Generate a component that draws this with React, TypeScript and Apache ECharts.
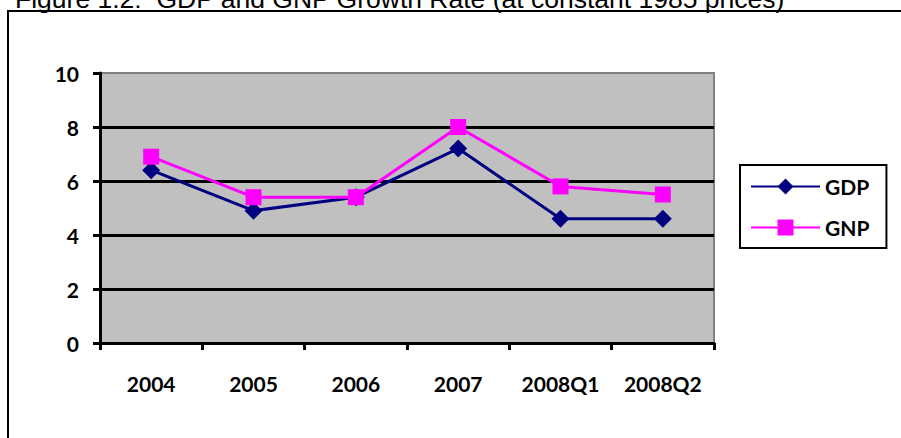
import React, { useEffect, useRef } from "react";
import * as echarts from "echarts";

const categories = ["2004", "2005", "2006", "2007", "2008Q1", "2008Q2"];
const gdpValues = [6.4, 4.9, 5.4, 7.2, 4.6, 4.6];
const gnpValues = [6.9, 5.4, 5.4, 8.0, 5.8, 5.5];
const titleText = "Figure 1.2:  GDP and GNP Growth Rate (at constant 1985 prices)";

const labelFont = { fontFamily: "Lato", fontWeight: "bold" as const, fontSize: 21, color: "#000" };

export default function App() {
  const ref = useRef<HTMLDivElement>(null);
  useEffect(() => {
    document.body.style.margin = "0";
    const chart = echarts.init(ref.current!, null, { renderer: "svg" });
    chart.setOption({
      animation: false,
      backgroundColor: "#fff",
      graphic: [
        {
          type: "polyline",
          shape: { points: [[8, 440], [8, 11], [903, 11]] },
          style: { stroke: "#000", lineWidth: 2, fill: "none" },
        },
        {
          type: "text",
          x: 15,
          y: -15,
          style: {
            text: titleText,
            fontSize: 26.5,
            fontFamily: "Liberation Sans",
            fill: "#000",
          },
        },
      ],
      grid: {
        left: 100,
        top: 73,
        right: 187,
        bottom: 95,
        show: true,
        backgroundColor: "#C0C0C0",
        borderColor: "#808080",
        borderWidth: 2,
      },
      legend: {
        orient: "vertical",
        left: 740,
        top: 165,
        padding: [11, 17, 10, 10],
        itemWidth: 69,
        itemHeight: 20,
        itemGap: 20,
        borderColor: "#000",
        borderWidth: 2,
        textStyle: labelFont,
        data: ["GDP", "GNP"],
      },
      xAxis: {
        type: "category",
        data: categories,
        boundaryGap: true,
        axisLine: { lineStyle: { color: "#000", width: 3 } },
        axisTick: { show: true, interval: 0, length: 7, lineStyle: { color: "#000", width: 3 } },
        axisLabel: { ...labelFont, margin: 30, interval: 0 },
        splitLine: { show: false },
      },
      yAxis: {
        type: "value",
        min: 0,
        max: 10,
        interval: 2,
        axisLine: { show: true, lineStyle: { color: "#000", width: 3 } },
        axisTick: { show: true, length: 7, lineStyle: { color: "#000", width: 3 } },
        axisLabel: { ...labelFont, margin: 21 },
        splitLine: { show: true, showMaxLine: false, lineStyle: { color: "#000", width: 3 } },
      },
      series: [
        {
          name: "GDP",
          type: "line",
          data: gdpValues,
          symbol: "diamond",
          symbolSize: 18,
          lineStyle: { color: "#000080", width: 3 },
          itemStyle: { color: "#000080" },
          z: 3,
        },
        {
          name: "GNP",
          type: "line",
          data: gnpValues,
          symbol: "rect",
          symbolSize: 16,
          lineStyle: { color: "#FF00FF", width: 3 },
          itemStyle: { color: "#FF00FF" },
          z: 4,
        },
      ],
    });
    return () => chart.dispose();
  }, []);
  return <div ref={ref} style={{ width: 901, height: 438 }} />;
}
